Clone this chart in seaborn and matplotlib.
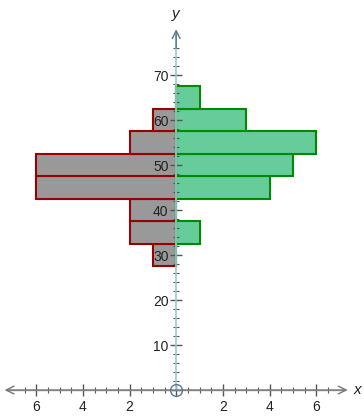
import seaborn as sns
import numpy as np
import pandas as pd
import matplotlib.pyplot as plt
from matplotlib.ticker import MultipleLocator, FuncFormatter

# bin centres (y) and counts for each side of the back-to-back histogram
bin_centers = [30, 35, 40, 45, 50, 55, 60, 65]
left_counts = [1, 2, 2, 6, 6, 2, 1, 0]
right_counts = [0, 1, 0, 4, 5, 6, 3, 1]

df = pd.DataFrame({"y": bin_centers, "left": left_counts, "right": right_counts})
df["left_neg"] = -df["left"]

sns.set_style("white")
plt.rcParams['font.family'] = ['Liberation Sans', 'DejaVu Sans']

fig = plt.figure(figsize=(3.64, 4.17), dpi=100)
ax = fig.add_axes([0, 0, 1, 1])

sns.histplot(data=df, y="y", weights="left_neg", binwidth=5, binrange=(27.5, 67.5), ax=ax,
             color="#999999", edgecolor="#990000", linewidth=1.5, alpha=1)
sns.histplot(data=df, y="y", weights="right", binwidth=5, binrange=(27.5, 67.5), ax=ax,
             color="#66cc99", edgecolor="#008a00", linewidth=1.5, alpha=1)

ax.set_xlim(-7.55, 8.05)
ax.set_ylim(-6, 86.7)
ax.set_xlabel("")
ax.set_ylabel("")

# axes through the origin
for s in ["top", "right"]:
    ax.spines[s].set_visible(False)
ax.spines["left"].set_position("zero")
ax.spines["bottom"].set_position("zero")
ax.spines["left"].set_color("#99cccc")
ax.spines["bottom"].set_color("#999999")
ax.spines["left"].set_linewidth(1.2)
ax.spines["bottom"].set_linewidth(1)
ax.spines["left"].set_bounds(0, 79)
ax.spines["bottom"].set_bounds(-7.3, 7.2)
ax.set_axisbelow(False)
for s in ["left", "bottom"]:
    ax.spines[s].set_zorder(5)

ax.set_xticks([-6, -4, -2, 0, 2, 4, 6])
ax.set_yticks([0, 10, 20, 30, 40, 50, 60, 70])
ax.xaxis.set_major_formatter(FuncFormatter(lambda v, p: "" if abs(v) < 1e-9 else f"{abs(v):.0f}"))
ax.yaxis.set_major_formatter(FuncFormatter(lambda v, p: "" if v <= 0 else f"{v:.0f}"))
ax.set_xticks([t for t in np.arange(-6.5, 6.6, 0.5) if t % 2 != 0], minor=True)
ax.set_yticks([t for t in range(2, 78, 2) if t % 10 != 0], minor=True)

ax.tick_params(axis="both", which="both", bottom=True, left=True, top=False, right=False)
ax.tick_params(axis="both", which="major", direction="inout", length=9, width=1,
               color="#555555", labelsize=10, labelcolor="#222222")
ax.tick_params(axis="both", which="minor", direction="inout", length=5, width=0.8,
               color="#555555")
ax.tick_params(axis="x", which="major", pad=3)
ax.tick_params(axis="y", which="major", pad=1)

# arrow heads
ax.annotate("", xy=(7.35, 0), xytext=(-7.35, 0),
            arrowprops=dict(arrowstyle="<->", color="#777777", lw=1, mutation_scale=14,
                            shrinkA=0, shrinkB=0), zorder=6)
ax.annotate("", xy=(0, 80.2), xytext=(0, 76),
            arrowprops=dict(arrowstyle="->", color="#557788", lw=1, mutation_scale=14,
                            shrinkA=0, shrinkB=0), zorder=6)
ax.plot(0, 0, marker="o", mfc="none", mec="#557799", ms=8.5, mew=1, zorder=7,
        clip_on=False)

ax.text(7.75, 0, "x", style="italic", fontsize=11, ha="center", va="center", color="#222222")
ax.text(0, 83.5, "y", style="italic", fontsize=11, ha="center", va="center", color="#222222")

fig.savefig("out.png", dpi=100)
